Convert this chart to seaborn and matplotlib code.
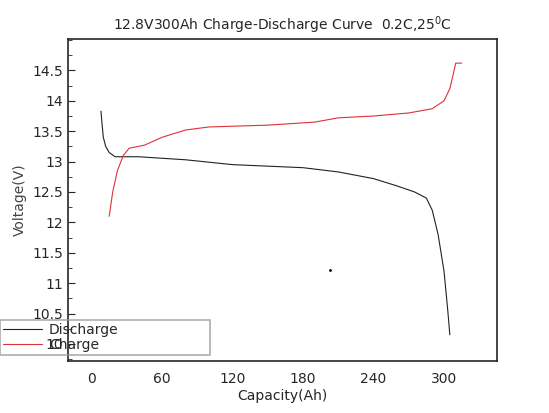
import matplotlib
matplotlib.use("Agg")
import matplotlib.pyplot as plt
import seaborn as sns
from matplotlib.ticker import MultipleLocator

dis_cap = [8, 9, 10, 12, 15, 20, 40, 80, 120, 180, 210, 240, 260, 275, 285, 290, 295, 300, 303, 305]
dis_volt = [13.83, 13.6, 13.4, 13.25, 13.15, 13.08, 13.08, 13.03, 12.95, 12.9, 12.83, 12.72, 12.6, 12.5, 12.4, 12.2, 11.8, 11.2, 10.6, 10.15]
chg_cap = [15, 18, 22, 27, 32, 45, 60, 80, 100, 150, 190, 210, 240, 270, 290, 300, 305, 308, 310, 315]
chg_volt = [12.1, 12.5, 12.85, 13.1, 13.22, 13.27, 13.4, 13.52, 13.57, 13.6, 13.65, 13.72, 13.75, 13.8, 13.87, 14.0, 14.2, 14.45, 14.62, 14.62]

sns.set_style("ticks")
plt.rcParams['font.family'] = ['DejaVu Sans']

fig = plt.figure(figsize=(5.49, 4.13), dpi=100)
ax = fig.add_axes([0.124, 0.126, 0.781, 0.78])
sns.lineplot(x=dis_cap, y=dis_volt, color='#222222', lw=0.8, label='Discharge', ax=ax, sort=False)
sns.lineplot(x=chg_cap, y=chg_volt, color='#e0303a', lw=0.8, label='Charge', ax=ax, sort=False)

ax.set_xlim(-20, 345)
ax.set_ylim(9.72, 15.02)
ax.set_xticks([0, 60, 120, 180, 240, 300])
ax.set_yticks([10, 10.5, 11, 11.5, 12, 12.5, 13, 13.5, 14, 14.5])
ax.set_yticklabels(['10', '10.5', '11', '11.5', '12', '12.5', '13', '13.5', '14', '14.5'])
ax.yaxis.set_minor_locator(MultipleLocator(0.25))
ax.tick_params(axis='y', which='both', direction='in', labelsize=10)
ax.tick_params(axis='y', which='major', length=5)
ax.tick_params(axis='y', which='minor', length=3)
ax.tick_params(axis='x', length=0, labelsize=10, pad=8)
for s in ax.spines.values():
    s.set_linewidth(1.2)
ax.set_xlabel('Capacity(Ah)', fontsize=10, labelpad=2)
ax.set_ylabel('Voltage(V)', fontsize=10, color='#444444')
ax.set_title('12.8V300Ah Charge-Discharge Curve  0.2C,25$^0$C', fontsize=10)
ax.plot([203], [11.22], marker='.', ms=2, color='black')

leg = ax.legend(loc='lower left', bbox_to_anchor=(-0.158, 0.02, 0.49, 0.146), mode='expand',
                fontsize=10, frameon=True, fancybox=False, borderaxespad=0, handlelength=2.8,
                labelspacing=0.05, borderpad=0.2, handletextpad=0.5)
leg.get_frame().set_edgecolor('#999999')
leg.get_frame().set_facecolor('none')
leg.get_frame().set_linewidth(1.2)

fig.savefig('out.png', dpi=100)
